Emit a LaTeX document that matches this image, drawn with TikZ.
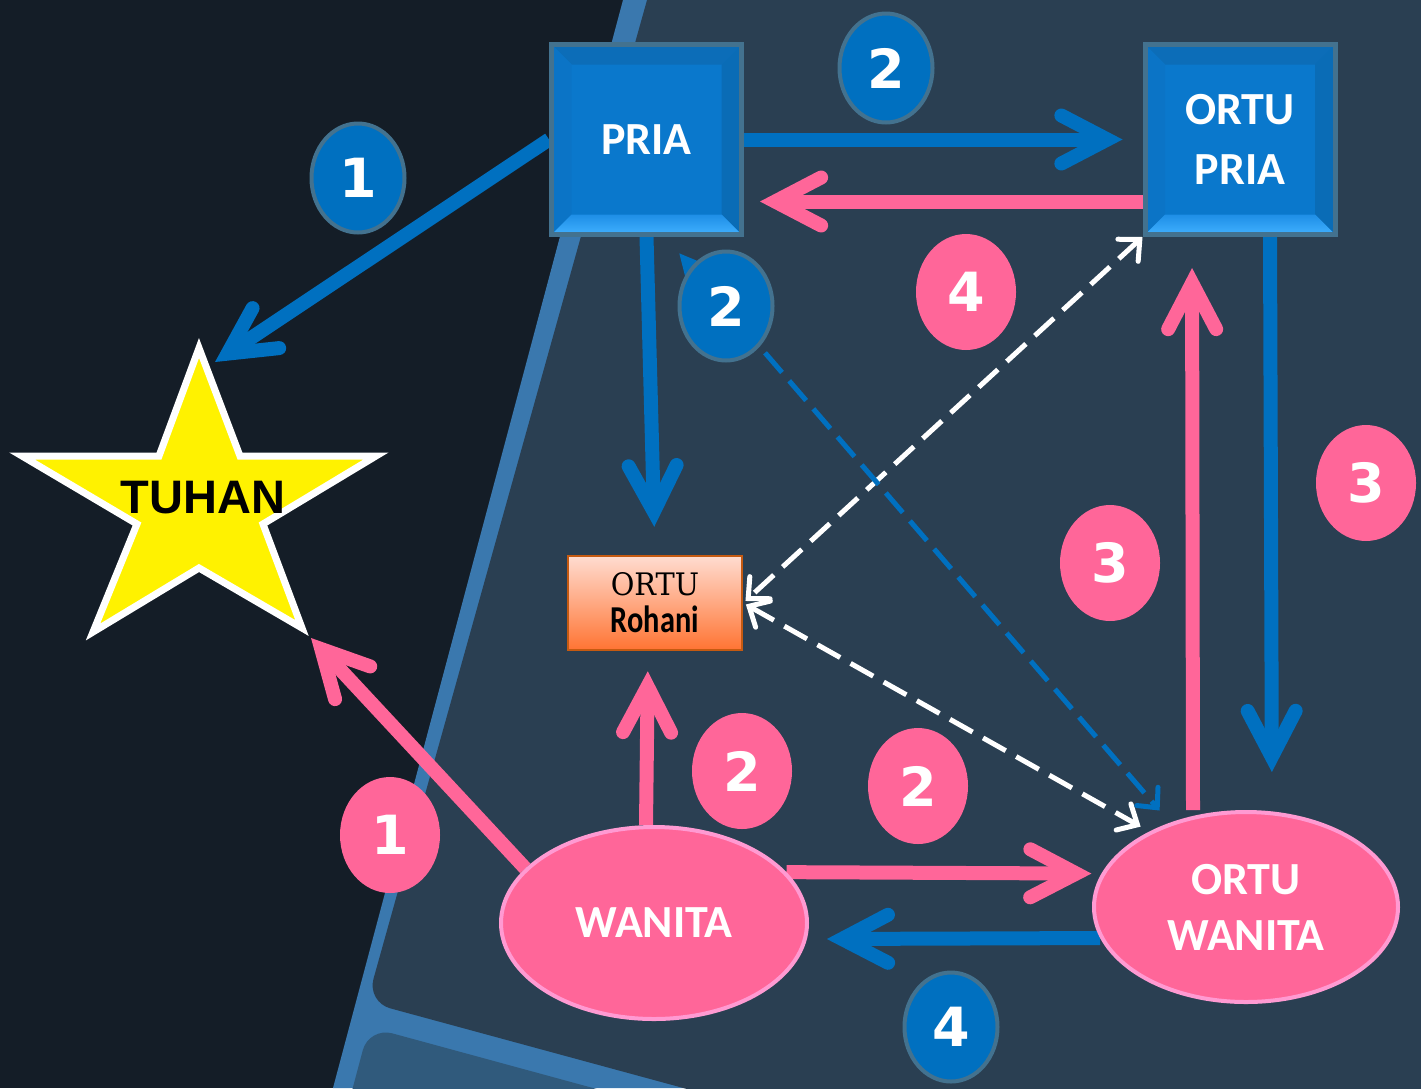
\documentclass[tikz,border=0pt]{standalone}
\usepackage{fontspec}
\usepackage{graphicx}
\usetikzlibrary{arrows.meta,shapes.geometric,calc}
\newfontfamily\carl{Carlito}
\newfontfamily\lsans{Liberation Sans}
\newfontfamily\dserif{DejaVu Serif}
\newfontfamily\dsans{DejaVu Sans}
\definecolor{bgdark}{HTML}{141D27}
\definecolor{panelA}{HTML}{2A3F52}
\definecolor{bandc}{HTML}{3A78AE}
\definecolor{panelB}{HTML}{305A7C}
\definecolor{mblue}{HTML}{0070C0}
\definecolor{mpink}{HTML}{FF6699}
\definecolor{bbord}{HTML}{43728F}
\definecolor{boxblue}{HTML}{0A78CC}
\definecolor{bevtop}{HTML}{0C6DB8}
\definecolor{bevleft}{HTML}{0B74C6}
\definecolor{bevright}{HTML}{0A6CB6}
\definecolor{bevbotA}{HTML}{1E8EE6}
\definecolor{bevbotB}{HTML}{40B0FF}
\definecolor{pinkrim}{HTML}{FF9AD2}
\definecolor{orTop}{HTML}{FFDCD0}
\definecolor{orBot}{HTML}{FF7433}
\definecolor{orBord}{HTML}{C55A11}
\pgfdeclarelayer{back}
\pgfdeclarelayer{links}
\pgfsetlayers{back,links,main}
\newcommand\pbb{path picture bounding box}
\begin{document}
\begin{tikzpicture}[x=1pt,y=-1pt,
  bar/.style={line width=14pt, -{Straight Barb[length=46pt,width=48pt,line cap=round,line join=miter]}},
  bluebar/.style={bar, draw=mblue},
  pinkbar/.style={bar, draw=mpink},
  wdash/.style={draw=white, line width=5pt, dash pattern=on 26pt off 12pt,
    {Straight Barb[length=16pt,width=30pt,line cap=round,line join=miter]}-{Straight Barb[length=16pt,width=30pt,line cap=round,line join=miter]}},
  bdash/.style={draw=mblue, line width=5pt, dash pattern=on 26pt off 11pt,
    {Triangle[length=22pt,width=20pt]}-{Straight Barb[length=15pt,width=28pt,line cap=round,line join=miter]}},
  badgeb/.style={ellipse, fill=mblue, draw=bbord, line width=4pt, minimum width=93pt, minimum height=109pt,
    inner sep=0pt, text=white, font=\dsans\bfseries\fontsize{54}{54}\selectfont},
  badgep/.style={ellipse, fill=mpink, minimum width=100pt, minimum height=116pt,
    inner sep=0pt, text=white, font=\dsans\bfseries\fontsize{54}{54}\selectfont},
  sqbox/.style={rectangle, fill=boxblue, draw=bbord, line width=5pt, minimum width=190pt, minimum height=190pt,
    inner sep=0pt, text=white, align=center, font=\carl\bfseries\fontsize{46}{60}\selectfont,
    path picture={
      \fill[bevtop] (\pbb.north west) -- (\pbb.north east) -- ([shift={(-20pt,-20pt)}]\pbb.north east) -- ([shift={(20pt,-20pt)}]\pbb.north west) -- cycle;
      \fill[bevleft] (\pbb.north west) -- ([shift={(20pt,-20pt)}]\pbb.north west) -- ([shift={(20pt,20pt)}]\pbb.south west) -- (\pbb.south west) -- cycle;
      \fill[bevright] (\pbb.north east) -- ([shift={(-20pt,-20pt)}]\pbb.north east) -- ([shift={(-20pt,20pt)}]\pbb.south east) -- (\pbb.south east) -- cycle;
      \shade[top color=bevbotA, bottom color=bevbotB] (\pbb.south west) -- (\pbb.south east) -- ([shift={(-20pt,20pt)}]\pbb.south east) -- ([shift={(20pt,20pt)}]\pbb.south west) -- cycle;
    }},
  oval/.style={ellipse, fill=mpink, draw=pinkrim, line width=4pt, inner sep=0pt, text=white, align=center,
    font=\carl\bfseries\fontsize{46}{56}\selectfont},
  rbox/.style={rectangle, minimum width=174pt, minimum height=94pt, top color=orTop, bottom color=orBot,
    draw=orBord, line width=2.5pt, inner sep=0pt, align=center, font=\fontsize{31}{37}\selectfont},
]
\useasboundingbox (0,0) rectangle (1421,1088);

% background
\begin{pgfonlayer}{back}
  \clip (0,0) rectangle (1421,1088);
  \fill[bgdark] (0,0) rectangle (1421,1088);
  \fill[bandc] (623,0) -- (1421,0) -- (1421,1088) -- (333,1088) -- cycle;
  \fill[panelA, rounded corners=24pt] (661,-50) -- (1500,-50) -- (1500,1310) -- (367,1002) -- cycle;
  \fill[panelB, rounded corners=24pt] (369,1027) -- (1500,1335) -- (1500,1400) -- (285,1342) -- cycle;
\end{pgfonlayer}

% star
\fill[yellow, draw=white, line width=7pt, line join=miter]
  (199,348) -- (240,456) -- (376,456) -- (263,524) -- (302,628) -- (199,568)
  -- (93,632) -- (137,524) -- (22,456) -- (159,456) -- cycle;
\node[font=\lsans\bfseries\fontsize{47}{47}\selectfont] (tuhan) at (203,498) {TUHAN};
\coordinate (tuhanA) at (215,362);
\coordinate (tuhanB) at (311,638);

% main nodes
\node[sqbox] (pria) at (646.5,139.5) {PRIA};
\node[sqbox] (opria) at (1240,139.5) {ORTU\\PRIA};
\node[rbox] (rohani) at (655,603)
  {{\dserif\scalebox{0.93}[1]{ORTU}}\\{\carl\bfseries\fontsize{38}{37}\selectfont\scalebox{0.8}[1]{Rohani}}};
\node[oval, minimum width=306pt, minimum height=192pt] (wanita) at (654,923) {WANITA};
\node[oval, minimum width=304pt, minimum height=190pt] (owan) at (1246,907) {ORTU\\WANITA};

% connectors
\begin{pgfonlayer}{links}
  \draw[bluebar] (pria.west) -- (tuhanA);
  \draw[bluebar, shorten >=20pt] (pria.east) -- (opria.west);
  \draw[pinkbar, shorten >=16pt] ([yshift=-62pt]opria.west) -- ([yshift=-62pt]pria.east);
  \draw[bluebar, shorten >=28pt] (pria.south) -- (rohani.north);
  \draw[bluebar, shorten >=38pt] ([xshift=30pt]opria.south) -- ([xshift=26pt]owan.north);
  \draw[pinkbar, shorten >=31pt] ([xshift=-53pt]owan.north) -- ([xshift=-48pt]opria.south);
  \draw[pinkbar, shorten >=20pt] ([xshift=-8pt]wanita.north) -- ([xshift=-7pt]rohani.south);
  \draw[pinkbar, shorten >=10pt] (wanita.21) -- (owan.167);
  \draw[bluebar, shorten >=20pt] (owan.192) -- (wanita.354);
  \draw[pinkbar] (wanita.157) -- (tuhanB);
  \draw[wdash, shorten >=3pt] (opria.south west) -- (rohani.east);
  \draw[wdash, shorten >=10pt, shorten <=3pt] (rohani.east) -- (owan.142);
  \draw[bdash, shorten >=16pt] ([shift={(-65pt,-16pt)}]pria.south east) -- (owan.132);
\end{pgfonlayer}

% badges
\node[badgeb] (b1) at (358,178) {1};
\node[badgeb] (b2a) at (886,68) {2};
\node[badgeb] (b2b) at (726,306) {2};
\node[badgeb] (b4) at (951,1027) {4};
\node[badgep] (p1) at (390,835) {1};
\node[badgep] (p2a) at (742,771) {2};
\node[badgep] (p2b) at (918,786) {2};
\node[badgep] (p3a) at (1110,563) {3};
\node[badgep] (p3b) at (1366,483) {3};
\node[badgep] (p4) at (966,292) {4};
\end{tikzpicture}
\end{document}
